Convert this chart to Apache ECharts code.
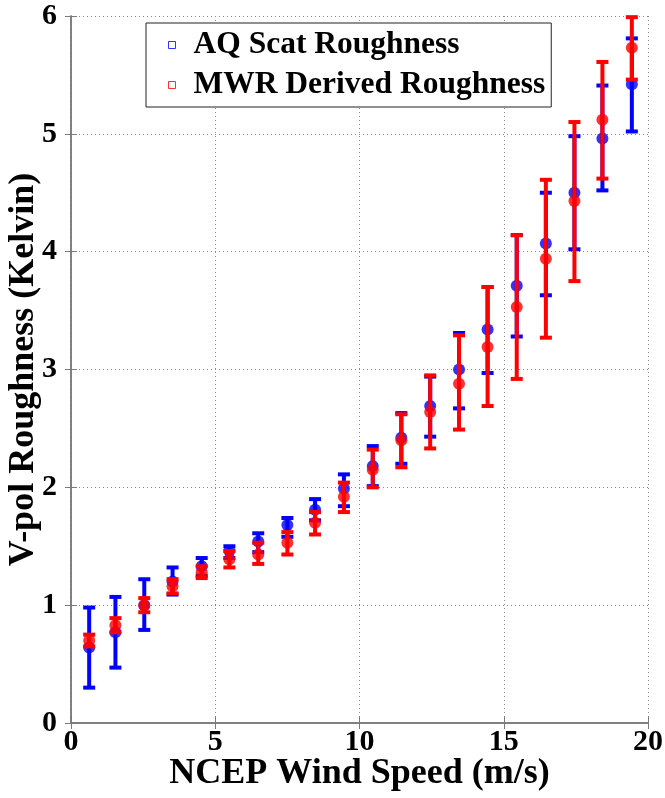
<!DOCTYPE html>
<html>
<head>
<meta charset="utf-8">
<script src="https://cdn.jsdelivr.net/npm/echarts@6/dist/echarts.min.js"></script>
<style>
html,body{margin:0;padding:0;background:#fff;}
#chart{width:665px;height:798px;}
</style>
</head>
<body>
<div id="chart"></div>
<script>
// Wind speed bin centres (m/s)
const windSpeed = [0.63,1.54,2.54,3.52,4.53,5.49,6.49,7.5,8.46,9.46,10.46,11.45,12.45,13.45,14.44,15.45,16.46,17.45,18.42,19.44];
// AQ Scat Roughness (Kelvin)
const aqMean = [0.64,0.77,1.0,1.2,1.33,1.46,1.54,1.68,1.81,1.99,2.18,2.42,2.69,3.0,3.34,3.71,4.07,4.50,4.96,5.42];
const aqLow  = [0.30,0.47,0.79,1.09,1.25,1.40,1.45,1.58,1.72,1.84,2.01,2.20,2.43,2.67,2.97,3.28,3.63,4.02,4.52,5.02];
const aqHigh = [0.98,1.07,1.22,1.32,1.40,1.50,1.61,1.74,1.90,2.11,2.35,2.63,2.94,3.31,3.70,4.14,4.50,4.98,5.41,5.81];
// MWR Derived Roughness (Kelvin)
const mwrMean = [0.70,0.83,1.0,1.16,1.28,1.39,1.43,1.53,1.70,1.92,2.15,2.40,2.64,2.88,3.19,3.53,3.94,4.43,5.12,5.73];
const mwrLow  = [0.65,0.77,0.94,1.10,1.23,1.32,1.35,1.43,1.60,1.79,2.0,2.17,2.33,2.49,2.69,2.92,3.27,3.75,4.62,5.46];
const mwrHigh = [0.75,0.89,1.06,1.22,1.33,1.46,1.53,1.62,1.79,2.04,2.32,2.62,2.95,3.29,3.70,4.14,4.61,5.10,5.61,5.99];
// Axis ticks
const xTicks = [0,5,10,15,20];
const yTicks = [0,1,2,3,4,5,6];
const seriesNames = ['AQ Scat Roughness','MWR Derived Roughness'];

const BLUE = '#0000ff', RED = '#ff0000';
const FONT = '"Liberation Serif", "Times New Roman", serif';

function errRender(color){
  return function(params, api){
    const x = api.value(0), lo = api.value(1), hi = api.value(2);
    const pLo = api.coord([x, lo]), pHi = api.coord([x, hi]);
    const hw = 6, lw = 4;
    const st = {stroke: color, lineWidth: lw};
    return {type:'group', children:[
      {type:'line', shape:{x1:pLo[0], y1:pLo[1], x2:pHi[0], y2:pHi[1]}, style:st},
      {type:'line', shape:{x1:pLo[0]-hw, y1:pLo[1], x2:pLo[0]+hw, y2:pLo[1]}, style:st},
      {type:'line', shape:{x1:pHi[0]-hw, y1:pHi[1], x2:pHi[0]+hw, y2:pHi[1]}, style:st}
    ]};
  };
}

const chart = echarts.init(document.getElementById('chart'), null, {renderer:'canvas'});
const frame = {show:true, lineStyle:{color:'#7a7a7a', width:1.5}};
const tick = {show:true, inside:true, length:6, lineStyle:{color:'#7a7a7a'}};

chart.setOption({
  animation:false,
  backgroundColor:'#fff',
  grid: {left:71, right:17, top:16, bottom:75, containLabel:false, outerBoundsMode:'none'},
  legend: {
    orient:'vertical', left:146, top:23,
    padding:[6,6,6,22],
    borderColor:'#222', borderWidth:1, backgroundColor:'#fff',
    itemWidth:7, itemHeight:7, itemGap:8,
    textStyle:{fontFamily:FONT, fontWeight:'bold', fontSize:31.5, lineHeight:31, color:'#000', padding:[0,0,0,13]},
    data:[
      {name:seriesNames[0], icon:'rect', itemStyle:{color:'#fff', borderColor:BLUE, borderWidth:1}},
      {name:seriesNames[1], icon:'rect', itemStyle:{color:'#fff', borderColor:RED, borderWidth:1}}
    ],
    z: 20
  },
  xAxis: [{
    type:'value', min:xTicks[0], max:xTicks[xTicks.length-1], interval:5,
    position:'bottom',
    axisLine:frame, axisTick:tick,
    axisLabel:{fontFamily:FONT, fontWeight:'bold', fontSize:30, color:'#000', margin:4},
    splitLine:{show:true, lineStyle:{color:'#8a8a8a', type:[1,3], width:1}},
    name:'NCEP Wind Speed (m/s)', nameLocation:'middle', nameGap:33, nameMoveOverlap:false,
    nameTextStyle:{fontFamily:FONT, fontWeight:'bold', fontSize:36, color:'#000'}
  },{
    type:'value', min:xTicks[0], max:xTicks[xTicks.length-1], interval:5,
    position:'top',
    axisLine:frame, axisTick:tick,
    axisLabel:{show:false}, splitLine:{show:false}
  }],
  yAxis: [{
    type:'value', min:yTicks[0], max:yTicks[yTicks.length-1], interval:1,
    position:'left',
    axisLine:frame, axisTick:tick,
    axisLabel:{fontFamily:FONT, fontWeight:'bold', fontSize:30, color:'#000', margin:14},
    splitLine:{show:true, lineStyle:{color:'#8a8a8a', type:[1,3], width:1}},
    name:'V-pol Roughness (Kelvin)', nameLocation:'middle', nameGap:29, nameMoveOverlap:false,
    nameTextStyle:{fontFamily:FONT, fontWeight:'bold', fontSize:36, color:'#000'}
  },{
    type:'value', min:yTicks[0], max:yTicks[yTicks.length-1], interval:1,
    position:'right',
    axisLine:frame, axisTick:tick,
    axisLabel:{show:false}, splitLine:{show:false}
  }],
  series: [
    {
      type:'custom', name:seriesNames[0]+' err', renderItem:errRender(BLUE), clip:false, z:2,
      encode:{x:0, y:[1,2]},
      data: windSpeed.map((x,i)=>[x, aqLow[i], aqHigh[i]])
    },
    {
      type:'scatter', name:seriesNames[0], symbol:'circle', symbolSize:12, z:3,
      itemStyle:{color:BLUE},
      data: windSpeed.map((x,i)=>[x, aqMean[i]])
    },
    {
      type:'custom', name:seriesNames[1]+' err', renderItem:errRender(RED), clip:false, z:4,
      encode:{x:0, y:[1,2]},
      data: windSpeed.map((x,i)=>[x, mwrLow[i], mwrHigh[i]])
    },
    {
      type:'scatter', name:seriesNames[1], symbol:'circle', symbolSize:12, z:5,
      itemStyle:{color:RED},
      data: windSpeed.map((x,i)=>[x, mwrMean[i]])
    }
  ]
});
</script>
</body>
</html>
